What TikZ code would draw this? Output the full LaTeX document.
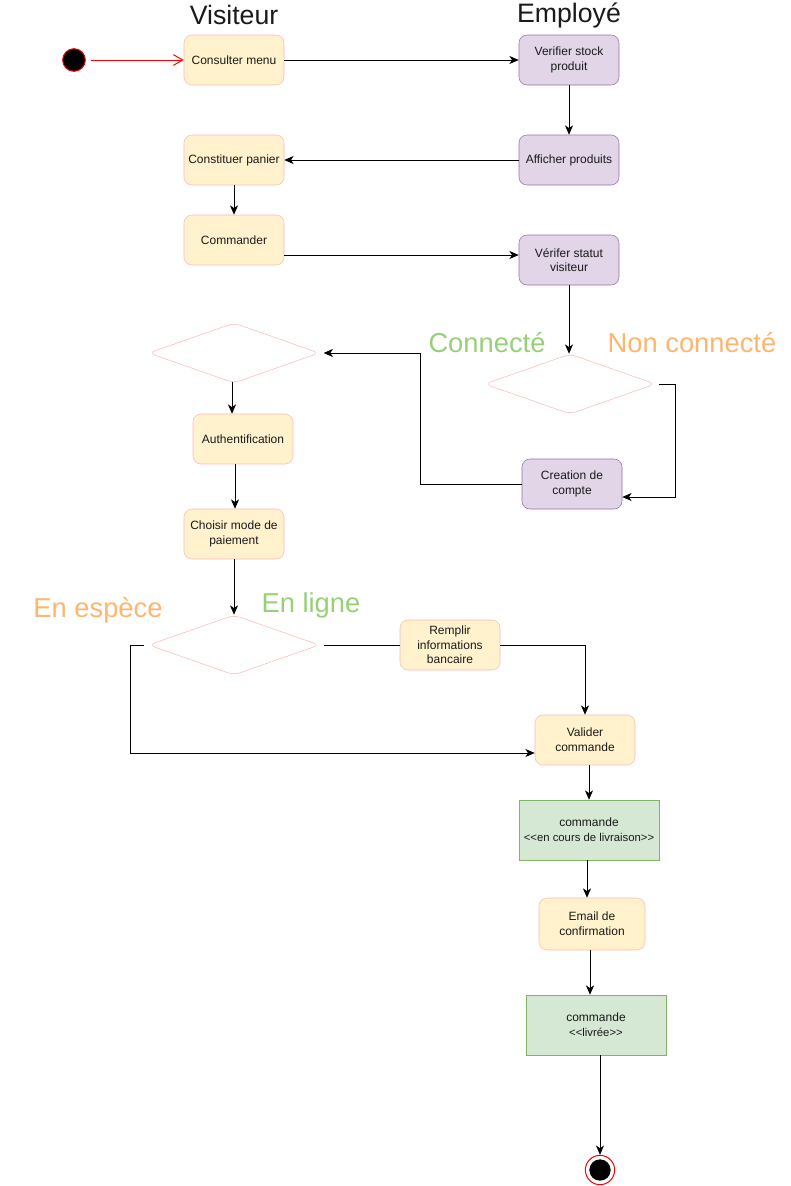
\documentclass[tikz,border=0pt]{standalone}
\usepackage{fontspec}
\setmainfont{Liberation Sans}
\usetikzlibrary{shapes.geometric,arrows.meta}
\definecolor{visfill}{HTML}{FFF2CC}
\definecolor{visline}{HTML}{FFB8B8}
\definecolor{empfill}{HTML}{E1D5E7}
\definecolor{empline}{HTML}{9673A6}
\definecolor{stfill}{HTML}{D5E8D4}
\definecolor{stline}{HTML}{82B366}
\definecolor{lgreen}{HTML}{97D077}
\definecolor{lorange}{HTML}{FFB570}
\definecolor{txt}{HTML}{1A1A1A}
\begin{document}
\begin{tikzpicture}[x=0.75pt,y=-0.75pt,
  box/.style={rounded corners=6pt,minimum width=75pt,minimum height=37.5pt,align=center,inner sep=1pt,font=\fontsize{9}{11}\selectfont,text=txt},
  visbox/.style={box,fill=visfill,draw=visline},
  empbox/.style={box,fill=empfill,draw=empline},
  stbox/.style={minimum width=105pt,minimum height=45pt,align=center,inner sep=1pt,font=\fontsize{9}{11}\selectfont,fill=stfill,draw=stline,text=txt},
  dec/.style={diamond,draw=visline,rounded corners=5pt,minimum width=128pt,minimum height=45pt,inner sep=0pt},
  title/.style={font=\fontsize{20}{22}\selectfont,text=txt},
  guard/.style={font=\fontsize{20.5}{23}\selectfont},
  arr/.style={-{Stealth[length=7pt,width=6pt,inset=2pt]},line width=0.75pt},
  ln/.style={line width=0.75pt}
]
\useasboundingbox (0,0) rectangle (790,1186);

\node[title] (tv) at (234,15) {Visiteur};
\node[title] (te) at (569,15) {Employé};

\node[circle,fill=black,draw=red,line width=0.75pt,minimum size=17pt,inner sep=0pt] (start) at (74,60) {};
\node[visbox] (menu) at (234,60) {Consulter menu};
\node[empbox] (stock) at (569,60) {Verifier stock\\produit};
\node[empbox] (aff) at (569,160) {Afficher produits};
\node[visbox] (panier) at (234,160) {Constituer panier};
\node[visbox] (cmd) at (234,240) {Commander};
\node[empbox] (statut) at (569,260) {Vérifer statut\\visiteur};
\node[dec] (d1) at (234,353) {};
\node[dec] (d2) at (570,384) {};
\node[visbox] (auth) at (243,439) {Authentification};
\node[empbox] (compte) at (572,484) {Creation de\\compte};
\node[visbox] (mode) at (234,534) {Choisir mode de\\paiement};
\node[dec] (d3) at (234,645) {};
\node[visbox] (remplir) at (450,645) {Remplir\\informations\\bancaire};
\node[visbox] (valider) at (585,740) {Valider\\commande};
\node[stbox] (encours) at (589,830) {commande\\{\fontsize{8.5}{10}\selectfont {<}{<}en cours de livraison{>}{>}}};
\node[visbox,minimum width=79.5pt,minimum height=39pt] (email) at (592,924) {Email de\\confirmation};
\node[stbox] (livree) at (596,1025) {commande\\{\fontsize{8.5}{10}\selectfont {<}{<}livrée{>}{>}}};
\node[circle,draw=red,line width=0.75pt,minimum size=22pt,inner sep=0pt] (end) at (600,1170) {};
\node[circle,fill=black,minimum size=16pt,inner sep=0pt] (endin) at (600,1170) {};

\node[guard,text=lgreen] (gc) at (487,343) {Connecté};
\node[guard,text=lorange] (gn) at (692,343) {Non connecté};
\node[guard,text=lorange] (ge) at (98,610) {En espèce};
\node[guard,text=lgreen] (gl) at (311,605) {En ligne};

\draw[red,line width=0.75pt,-{Straight Barb[length=7pt,width=8pt]}] (start.east)++(5,0) -- (menu.west);
\draw[arr] (menu.east) -- (stock.west);
\draw[arr] (stock.south) -- (aff.north);
\draw[arr] (aff.west) -- (panier.east);
\draw[arr] (panier.south) -- (cmd.north);
\draw[arr] (cmd.east |- 0,255) -- (statut.west |- 0,255);
\draw[arr] (statut.south) -- (statut.south |- d2.north);
\coordinate (c1) at (675,384);
\coordinate (c2) at (675,497);
\draw[arr] (d2.east)++(3,0) -- (c1) -- (c2) -- (compte.east |- c2);
\coordinate (c3) at (420,484);
\coordinate (c4) at (420,353);
\draw[arr] (compte.west) -- (c3) -- (c4) -- ([xshift=3pt]d1.east);
\draw[arr] (232,382) -- (auth.north -| 232,0);
\draw[arr] (235,464) -- (mode.north -| 235,0);
\draw[arr] (234,559) -- (d3.north);
\coordinate (c5) at (130,645);
\coordinate (c6) at (130,753);
\draw[arr] ([xshift=-3pt]d3.west) -- (c5) -- (c6) -- (valider.west |- c6);
\draw[ln] ([xshift=3pt]d3.east) -- (remplir.west);
\coordinate (c7) at (585,645);
\draw[arr] (remplir.east) -- (c7) -- (valider.north);
\draw[arr] (589,765) -- (encours.north -| 589,0);
\draw[arr] (587,860) -- (email.north -| 587,0);
\draw[arr] (590,950) -- (livree.north -| 590,0);
\draw[arr] (livree.south -| 600,0) -- (end.north);
\end{tikzpicture}
\end{document}
